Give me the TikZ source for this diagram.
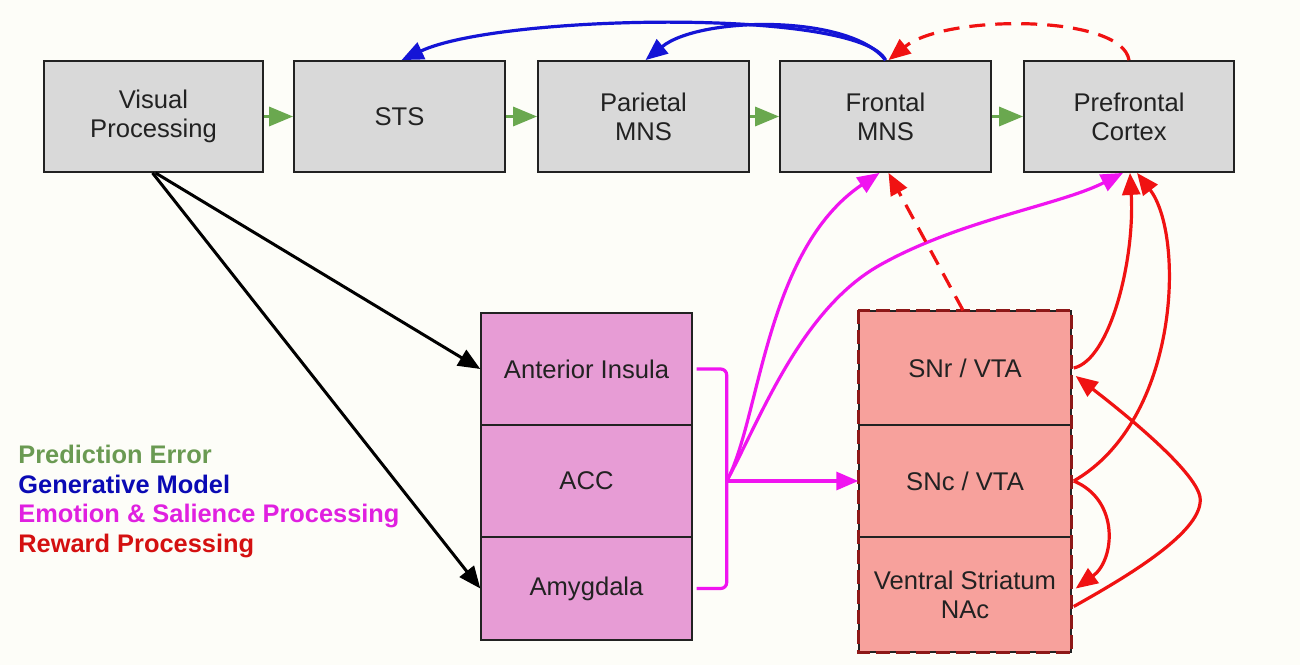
\documentclass[tikz,border=0pt]{standalone}
\usepackage{fontspec}
\setmainfont{Liberation Sans}
\usetikzlibrary{arrows.meta}
\definecolor{bg}{HTML}{FDFDF8}
\definecolor{boxgray}{HTML}{D9D9D9}
\definecolor{boxpink}{HTML}{E79CD5}
\definecolor{boxsalmon}{HTML}{F7A19C}
\definecolor{edge}{HTML}{222222}
\definecolor{pegreen}{HTML}{6AA84F}
\definecolor{gmblue}{HTML}{1414D6}
\definecolor{esmag}{HTML}{F014F0}
\definecolor{rwred}{HTML}{F01212}
\definecolor{dkred}{HTML}{8E1818}
\definecolor{leggreen}{HTML}{6A9A52}
\definecolor{legblue}{HTML}{0A0AB4}
\definecolor{legmag}{HTML}{E020E0}
\definecolor{legred}{HTML}{D41010}
\tikzset{
  boxtext/.style={font=\fontsize{12.8}{14.6}\selectfont, text=edge, align=center, inner sep=0pt},
  topbox/.style={boxtext, draw=edge, line width=0.9pt, fill=boxgray, minimum height=55.5pt},
  pinkbox/.style={boxtext, draw=edge, line width=0.7pt, fill=boxpink, minimum width=105.5pt},
  redbox/.style={boxtext, draw=edge, line width=0.7pt, fill=boxsalmon, minimum width=106pt},
  tip/.style={-{Triangle[length=11pt,width=9pt]}},
  pearrow/.style={draw=pegreen, line width=1.6pt, -{Triangle[length=12pt,width=9.5pt]}},
  gmarrow/.style={draw=gmblue, line width=1.6pt, tip},
  esarrow/.style={draw=esmag, line width=1.6pt, tip},
  rwarrow/.style={draw=rwred, line width=1.6pt, tip},
  rwdash/.style={rwarrow, dash pattern=on 8pt off 5pt},
  blkarrow/.style={draw=black, line width=1.5pt, tip},
  legend/.style={font=\bfseries\fontsize{12.7}{14}\selectfont, anchor=base west, inner sep=0pt}
}
\begin{document}
\begin{tikzpicture}[x=0.5pt,y=-0.5pt]
\fill[bg] (0,0) rectangle (1300,665);
\useasboundingbox (0,0) rectangle (1300,665);

% top row
\node[topbox, minimum width=109.5pt] (vis) at (153.5,116.5) {Visual\\Processing};
\node[topbox, minimum width=105.5pt] (sts) at (399.5,116.5) {STS};
\node[topbox, minimum width=105.5pt] (par) at (643.5,116.5) {Parietal\\MNS};
\node[topbox, minimum width=105.5pt] (fron) at (885.5,116.5) {Frontal\\MNS};
\node[topbox, minimum width=105pt] (pf) at (1129,116.5) {Prefrontal\\Cortex};

% emotion stack
\node[pinkbox, minimum height=56pt] (ai) at (586.5,369) {Anterior Insula};
\node[pinkbox, minimum height=56pt] (acc) at (586.5,481) {ACC};
\node[pinkbox, minimum height=51.5pt] (amy) at (586.5,588.5) {Amygdala};

% reward stack
\node[redbox, minimum height=57pt] (snr) at (965,368) {SNr / VTA};
\node[redbox, minimum height=56pt] (snc) at (965,481) {SNc / VTA};
\node[redbox, minimum height=57.5pt] (vs) at (965,594.5) {Ventral Striatum\\NAc};
\draw[dkred, line width=1.3pt, dash pattern=on 7pt off 3pt] (snr.north west) rectangle (vs.south east);

% legend
\node[legend, text=leggreen] (leg1) at (18,463) {Prediction Error};
\node[legend, text=legblue] (leg2) at (18,493) {Generative Model};
\node[legend, text=legmag] (leg3) at (18,522) {Emotion \& Salience Processing};
\node[legend, text=legred] (leg4) at (18,552) {Reward Processing};

% prediction error
\draw[pearrow] (vis.east) -- (sts.west);
\draw[pearrow] (sts.east) -- (par.west);
\draw[pearrow] (par.east) -- (fron.west);
\draw[pearrow] (fron.east) -- (pf.west);

% generative model
\draw[gmarrow] (fron.north) .. controls (860,8) and (500,14) .. ([xshift=1pt]sts.north);
\draw[gmarrow] (fron.north) .. controls (850,14) and (700,16) .. ([xshift=1pt]par.north);

% reward dashed top
\draw[rwdash] (pf.north) .. controls (1122,14) and (945,14) .. ([xshift=1.5pt]fron.north);

% visual to emotion
\draw[blkarrow] ([xshift=1pt]vis.south) -- (ai.west);
\draw[blkarrow] ([xshift=-0.5pt]vis.south) -- (amy.west);

% emotion bracket and outputs
\coordinate (hub) at ([xshift=17pt]acc.east);
\draw[draw=esmag, line width=1.6pt, rounded corners=3pt] ([xshift=2pt]ai.east) -- ([xshift=17pt]ai.east) -- ([xshift=17pt]amy.east) -- ([xshift=2pt]amy.east);
\draw[esarrow] (hub) -- (snc.west);
\draw[esarrow] (hub) .. controls (760,420) and (765,250) .. ([xshift=-3pt]fron.south);
\draw[esarrow] (hub) .. controls (760,420) and (800,310) .. (880,265) .. controls (960,220) and (1060,205) .. ([xshift=-3pt]pf.south);

% reward
\draw[rwdash] ([xshift=-1pt]snr.north) -- ([xshift=1.5pt]fron.south);
\draw[rwarrow] ([xshift=1pt]snr.east) .. controls (1110,360) and (1135,260) .. ([xshift=0.5pt]pf.south);
\draw[rwarrow] ([xshift=1pt]snc.east) .. controls (1180,420) and (1185,235) .. ([xshift=4pt]pf.south);
\draw[rwarrow] ([xshift=1pt]snc.east) .. controls (1120,500) and (1115,560) .. ([xshift=2pt,yshift=3pt]vs.east);
\draw[rwarrow] ([xshift=1pt,yshift=-6pt]vs.east) .. controls (1130,575) and (1205,530) .. (1200,497) .. controls (1195,470) and (1120,410) .. ([xshift=2pt,yshift=-4pt]snr.east);
\end{tikzpicture}
\end{document}
